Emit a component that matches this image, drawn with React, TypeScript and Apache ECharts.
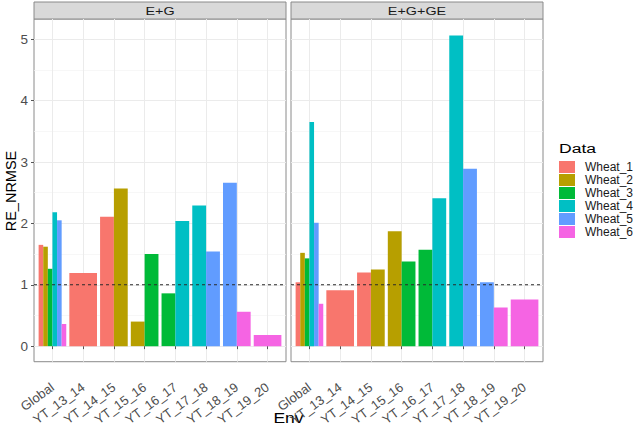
import React, { useEffect, useRef } from 'react';
import * as echarts from 'echarts';

const envs = ['Global', 'YT_13_14', 'YT_14_15', 'YT_15_16', 'YT_16_17', 'YT_17_18', 'YT_18_19', 'YT_19_20'];
const datasets = ['Wheat_1', 'Wheat_2', 'Wheat_3', 'Wheat_4', 'Wheat_5', 'Wheat_6'];
const colors = ['#F8766D', '#B79F00', '#00BA38', '#00BFC4', '#619CFF', '#F564E3'];
const panels = ['E+G', 'E+G+GE'];
const yTicks = [0, 1, 2, 3, 4, 5];
const yMinorTicks = [0.5, 1.5, 2.5, 3.5, 4.5];
const refLine = 1;

// E+G panel
const egWheat1 = [1.65, 1.19, 2.11, null, null, null, null, null];
const egWheat2 = [1.62, null, 2.57, 0.40, null, null, null, null];
const egWheat3 = [1.26, null, null, 1.50, 0.86, null, null, null];
const egWheat4 = [2.18, null, null, null, 2.04, 2.29, null, null];
const egWheat5 = [2.05, null, null, null, null, 1.54, 2.66, null];
const egWheat6 = [0.36, null, null, null, null, null, 0.56, 0.18];

// E+G+GE panel
const eggeWheat1 = [1.04, 0.91, 1.20, null, null, null, null, null];
const eggeWheat2 = [1.52, null, 1.25, 1.87, null, null, null, null];
const eggeWheat3 = [1.43, null, null, 1.38, 1.57, null, null, null];
const eggeWheat4 = [3.65, null, null, null, 2.41, 5.06, null, null];
const eggeWheat5 = [2.01, null, null, null, null, 2.89, 1.04, null];
const eggeWheat6 = [0.69, null, null, null, null, null, 0.63, 0.76];

const panelValues = [
  [egWheat1, egWheat2, egWheat3, egWheat4, egWheat5, egWheat6],
  [eggeWheat1, eggeWheat2, eggeWheat3, eggeWheat4, eggeWheat5, eggeWheat6],
];

const FONT = '"Liberation Sans", Arial, sans-serif';
const X_MIN = 0.4;
const X_MAX = envs.length + 0.6;
const Y_MIN = -0.254;
const Y_MAX = 5.33;
const xTickValues = envs.map((_, i) => i + 1);

function buildDodged(vals: (number | null)[][]) {
  const out: number[][][] = datasets.map(() => []);
  envs.forEach((_, e) => {
    const present: number[] = [];
    vals.forEach((arr, d) => {
      if (arr[e] != null) present.push(d);
    });
    present.forEach((d, k) => {
      out[d].push([e + 1, vals[d][e] as number, k, present.length]);
    });
  });
  return out;
}

const GRID_TOP = 19;
const GRID_H = 344;
const GRID_W = 252;
const gridLefts = [34, 291];

export default function App() {
  const ref = useRef<HTMLDivElement>(null);
  useEffect(() => {
    document.body.style.margin = '0';
    if (!ref.current) return;
    const chart = echarts.init(ref.current, null, { renderer: 'svg' });

    const grids = gridLefts.map((left) => ({
      left,
      top: GRID_TOP,
      width: GRID_W,
      height: GRID_H,
      show: true,
      backgroundColor: '#ffffff',
      borderColor: '#8a8a8a',
      borderWidth: 1,
    }));

    const xAxes = panels.map((_, p) => ({
      type: 'value',
      gridIndex: p,
      min: X_MIN,
      max: X_MAX,
      axisLine: { show: false },
      axisTick: { show: true, length: 3, lineStyle: { color: '#555' }, customValues: xTickValues },
      axisLabel: {
        customValues: xTickValues,
        formatter: (v: number) => envs[Math.round(v) - 1],
        rotate: 36,
        fontSize: 13,
        color: '#4d4d4d',
        fontFamily: FONT,
        margin: 24,
      },
      splitLine: { show: true, lineStyle: { color: '#ebebeb', width: 1 } },
    }));

    const yAxes: any[] = [];
    panels.forEach((_, p) => {
      yAxes.push({
        type: 'value',
        gridIndex: p,
        min: Y_MIN,
        max: Y_MAX,
        axisLine: { show: false },
        axisTick: { show: p === 0, length: 3, lineStyle: { color: '#555' }, customValues: yTicks },
        axisLabel: { show: p === 0, customValues: yTicks, fontSize: 13.5, color: '#4d4d4d', fontFamily: FONT, margin: 6 },
        splitLine: { show: true, lineStyle: { color: '#ebebeb', width: 1 } },
      });
      yAxes.push({
        type: 'value',
        gridIndex: p,
        min: Y_MIN,
        max: Y_MAX,
        axisLine: { show: false },
        axisTick: { show: false, customValues: yMinorTicks },
        axisLabel: { show: false },
        splitLine: { show: true, lineStyle: { color: '#f4f4f4', width: 0.7 } },
      });
    });

    const series: any[] = [];
    panels.forEach((_, p) => {
      const dodged = buildDodged(panelValues[p]);
      datasets.forEach((name, d) => {
        series.push({
          type: 'custom',
          name,
          xAxisIndex: p,
          yAxisIndex: p * 2,
          color: colors[d],
          itemStyle: { color: colors[d] },
          encode: { x: 0, y: 1 },
          data: dodged[d],
          silent: true,
          renderItem: (params: any, api: any) => {
            const x = api.value(0);
            const v = api.value(1);
            const k = api.value(2);
            const n = api.value(3);
            const w = 0.9 / n;
            const x0 = x - 0.45 + k * w;
            const p0 = api.coord([x0, v]);
            const p1 = api.coord([x0 + w, 0]);
            return {
              type: 'rect',
              shape: { x: p0[0], y: p0[1], width: p1[0] - p0[0], height: p1[1] - p0[1] },
              style: { fill: colors[d] },
            };
          },
        });
      });
      series.push({
        type: 'line',
        xAxisIndex: p,
        yAxisIndex: p * 2,
        data: [[X_MIN, refLine], [X_MAX, refLine]],
        symbol: 'none',
        silent: true,
        z: 5,
        lineStyle: { type: [3, 3], color: '#2a2a2a', width: 1 },
      });
    });

    const graphic: any[] = [];
    panels.forEach((label, p) => {
      graphic.push({
        type: 'rect',
        shape: { x: gridLefts[p], y: 2, width: GRID_W, height: GRID_TOP - 2 },
        style: { fill: '#d9d9d9', stroke: '#8a8a8a', lineWidth: 1 },
      });
      graphic.push({
        type: 'text',
        x: gridLefts[p] + GRID_W / 2,
        y: 11,
        scaleX: 1.25,
        style: { text: label, fill: '#1a1a1a', font: `11.5px ${FONT}`, textAlign: 'center', textVerticalAlign: 'middle' },
      });
    });
    graphic.push({
      type: 'text',
      x: 11,
      y: GRID_TOP + GRID_H / 2,
      rotation: Math.PI / 2,
      style: { text: 'RE_NRMSE', fill: '#000', font: `14.5px ${FONT}`, textAlign: 'center', textVerticalAlign: 'middle' },
    });
    graphic.push({
      type: 'text',
      x: (gridLefts[0] + gridLefts[1] + GRID_W) / 2,
      y: 418,
      scaleX: 1.25,
      style: { text: 'Env', fill: '#000', font: `14px ${FONT}`, textAlign: 'center', textVerticalAlign: 'middle' },
    });
    graphic.push({
      type: 'text',
      x: 559,
      y: 148,
      scaleX: 1.3,
      style: { text: 'Data', fill: '#000', font: `13.5px ${FONT}`, textAlign: 'left', textVerticalAlign: 'middle' },
    });

    chart.setOption({
      animation: false,
      backgroundColor: '#ffffff',
      textStyle: { fontFamily: FONT },
      grid: grids,
      xAxis: xAxes,
      yAxis: yAxes,
      legend: {
        data: datasets,
        orient: 'vertical',
        left: 559,
        top: 161,
        icon: 'rect',
        itemWidth: 16,
        itemHeight: 12,
        itemGap: 1,
        padding: 0,
        selectedMode: false,
        textStyle: { fontSize: 12, lineHeight: 12, color: '#1a1a1a', fontFamily: FONT, padding: [0, 0, 0, 5] },
      },
      graphic,
      series,
    });
    return () => chart.dispose();
  }, []);
  return <div ref={ref} style={{ width: 643, height: 428 }} />;
}
